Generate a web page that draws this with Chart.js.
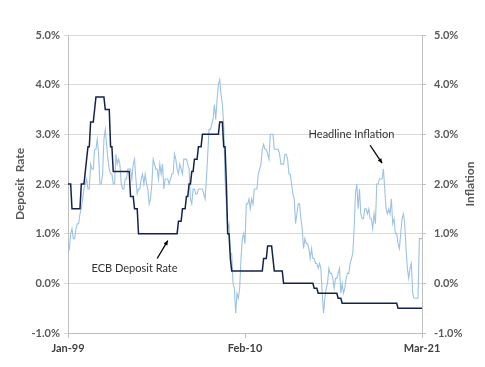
<!DOCTYPE html>
<html>
<head>
<meta charset="utf-8">
<script src="https://cdn.jsdelivr.net/npm/chart.js@4"></script>
<style>
body{margin:0;background:#fff;}
canvas{display:block;}
</style>
</head>
<body>
<canvas id="chart" width="485" height="367"></canvas>
<script>
// monthly, Jan-99 .. Mar-21
const years = [];
for(let y=1999;y<=2021;y++) years.push(y);
const monthNames = ["Jan","Feb","Mar","Apr","May","Jun","Jul","Aug","Sep","Oct","Nov","Dec"];

const tickIdx = [0,133,266];
const tickLabels = ["Jan-99","Feb-10","Mar-21"];
const yTicks = [-1,0,1,2,3,4,5];

// ECB deposit rate, %
const depositRate = [
2,2,2,1.5,1.5,1.5,1.5,1.5,1.5,1.5,2,2,
2,2.25,2.5,2.75,2.75,3.25,3.25,3.25,3.5,3.75,3.75,3.75,
3.75,3.75,3.75,3.75,3.5,3.5,3.5,3.5,2.75,2.75,2.25,2.25,
2.25,2.25,2.25,2.25,2.25,2.25,2.25,2.25,2.25,2.25,2.25,1.75,
1.75,1.75,1.5,1.5,1.5,1,1,1,1,1,1,1,
1,1,1,1,1,1,1,1,1,1,1,1,
1,1,1,1,1,1,1,1,1,1,1,1.25,
1.25,1.25,1.5,1.5,1.5,1.75,1.75,2,2,2.25,2.25,2.5,
2.5,2.5,2.75,2.75,2.75,3,3,3,3,3,3,3,
3,3,3,3,3,3,3.25,3.25,3.25,2.75,2.75,2,
1,1,0.5,0.25,0.25,0.25,0.25,0.25,0.25,0.25,0.25,0.25,
0.25,0.25,0.25,0.25,0.25,0.25,0.25,0.25,0.25,0.25,0.25,0.25,
0.25,0.25,0.25,0.5,0.5,0.5,0.75,0.75,0.75,0.75,0.5,0.25,
0.25,0.25,0.25,0.25,0.25,0.25,0,0,0,0,0,0,
0,0,0,0,0,0,0,0,0,0,0,0,
0,0,0,0,0,-0.1,-0.1,-0.1,-0.2,-0.2,-0.2,-0.2,
-0.2,-0.2,-0.2,-0.2,-0.2,-0.2,-0.2,-0.2,-0.2,-0.2,-0.2,-0.3,
-0.3,-0.3,-0.4,-0.4,-0.4,-0.4,-0.4,-0.4,-0.4,-0.4,-0.4,-0.4,
-0.4,-0.4,-0.4,-0.4,-0.4,-0.4,-0.4,-0.4,-0.4,-0.4,-0.4,-0.4,
-0.4,-0.4,-0.4,-0.4,-0.4,-0.4,-0.4,-0.4,-0.4,-0.4,-0.4,-0.4,
-0.4,-0.4,-0.4,-0.4,-0.4,-0.4,-0.4,-0.4,-0.5,-0.5,-0.5,-0.5,
-0.5,-0.5,-0.5,-0.5,-0.5,-0.5,-0.5,-0.5,-0.5,-0.5,-0.5,-0.5,
-0.5,-0.5,-0.5
];

// headline inflation, % y/y
const inflation = [
0.8,0.7,1.0,1.1,0.9,0.9,1.1,1.2,1.2,1.4,1.5,1.7,
1.9,2.0,2.1,1.9,1.9,2.4,2.3,2.3,2.7,2.7,2.9,2.6,
2.0,2.0,2.2,2.9,3.1,2.8,2.5,2.3,2.2,2.2,2.0,2.0,
2.6,2.4,2.5,2.4,2.0,1.9,1.9,2.1,2.1,2.3,2.3,2.3,
2.1,2.4,2.5,2.1,1.8,1.9,1.9,2.1,2.2,2.0,2.2,2.0,
1.9,1.6,1.7,2.0,2.5,2.4,2.3,2.3,2.1,2.4,2.2,2.4,
1.9,2.1,2.1,2.1,2.0,2.1,2.2,2.2,2.6,2.5,2.3,2.2,
2.4,2.3,2.2,2.5,2.5,2.5,2.4,2.3,1.7,1.6,1.9,1.9,
1.8,1.8,1.9,1.9,1.9,1.9,1.8,1.7,2.1,2.6,3.1,3.1,
3.2,3.3,3.6,3.3,3.7,4.0,4.1,3.8,3.6,3.2,2.1,1.6,
1.1,1.2,0.6,0.6,0.0,-0.1,-0.6,-0.2,-0.3,-0.1,0.5,0.9,
1.0,0.8,1.6,1.6,1.7,1.5,1.7,1.6,1.9,1.9,1.9,2.2,
2.3,2.4,2.7,2.8,2.7,2.7,2.6,2.5,3.0,3.0,3.0,2.7,
2.7,2.7,2.7,2.6,2.4,2.4,2.4,2.6,2.6,2.5,2.2,2.2,
2.0,1.8,1.7,1.2,1.4,1.6,1.6,1.3,1.1,0.7,0.9,0.8,
0.8,0.7,0.5,0.7,0.5,0.5,0.4,0.4,0.3,0.4,0.3,-0.2,
-0.6,-0.3,-0.1,0.0,0.3,0.2,0.2,0.1,-0.1,0.1,0.1,0.2,
0.3,-0.2,0.0,-0.2,-0.1,0.1,0.2,0.2,0.4,0.5,0.6,1.1,
1.8,2.0,1.5,1.9,1.4,1.3,1.3,1.5,1.5,1.4,1.5,1.3,
1.3,1.1,1.4,1.2,2.0,2.0,2.1,2.1,2.1,2.3,1.9,1.5,
1.4,1.5,1.4,1.7,1.2,1.3,1.0,1.0,0.8,0.7,1.0,1.3,
1.4,1.2,0.7,0.3,0.1,0.3,0.4,-0.2,-0.3,-0.3,-0.3,-0.3,
0.9,0.9,0.9
];

const labels = [];
years.forEach(y => monthNames.forEach(m => labels.push(m+"-"+String(y).slice(2))));
labels.length = depositRate.length;

// annotations: [month index, value]
const ecbNote = {text:"ECB Deposit Rate", at:[50,0.3], from:[67,0.5], to:[75,0.86]};
const inflNote = {text:"Headline Inflation", at:[213,3.0], from:[227,2.78], to:[236,2.42]};

const FONT = "Lato, 'Open Sans', sans-serif";
const GREY = "#595959";

function drawArrow(ctx,x1,y1,x2,y2){
const a = Math.atan2(y2-y1,x2-x1), h = 5;
ctx.beginPath();
ctx.moveTo(x1,y1);
ctx.lineTo(x2,y2);
ctx.stroke();
ctx.beginPath();
ctx.moveTo(x2,y2);
ctx.lineTo(x2-h*Math.cos(a-0.45),y2-h*Math.sin(a-0.45));
ctx.lineTo(x2-h*Math.cos(a+0.45),y2-h*Math.sin(a+0.45));
ctx.closePath();
ctx.fill();
}

const extras = {
id:"extras",
afterDraw(c){
const ctx = c.ctx, xs = c.scales.x, ys = c.scales.y, ca = c.chartArea;
const mid = (ca.top+ca.bottom)/2;
ctx.save();
ctx.fillStyle = GREY;
ctx.font = "bold 12px "+FONT;
ctx.textAlign = "center";
ctx.textBaseline = "middle";
[["Deposit  Rate",20],["Inflation",470]].forEach(t=>{
ctx.save();
ctx.translate(t[1],mid);
ctx.rotate(-Math.PI/2);
ctx.fillText(t[0],0,0);
ctx.restore();
});

ctx.strokeStyle = "#000";
ctx.lineWidth = 1.3;
ctx.font = "11px "+FONT;
[ecbNote,inflNote].forEach(n=>{
ctx.fillStyle = "#333";
ctx.fillText(n.text, xs.getPixelForValue(n.at[0]), ys.getPixelForValue(n.at[1]));
ctx.fillStyle = "#000";
drawArrow(ctx,
xs.getPixelForValue(n.from[0]), ys.getPixelForValue(n.from[1]),
xs.getPixelForValue(n.to[0]), ys.getPixelForValue(n.to[1]));
});
ctx.restore();
}
};

const tickFont = {family:FONT, size:11, weight:"bold"};

const chart = new Chart(document.getElementById("chart").getContext("2d"),{
type:"line",
data:{
labels:labels,
datasets:[
{label:"ECB Deposit Rate",data:depositRate,yAxisID:"y",borderColor:"#14224a",borderWidth:1.5,pointRadius:0,tension:0},
{label:"Headline Inflation",data:inflation,yAxisID:"y1",borderColor:"#9cc2e5",borderWidth:1.1,pointRadius:0,tension:0}
]
},
options:{
responsive:false,
animation:false,
layout:{padding:{top:35,left:0,right:0,bottom:0}},
plugins:{legend:{display:false},tooltip:{enabled:false}},
scales:{
x:{
type:"category",
offset:false,
grid:{drawOnChartArea:false,color:"#bfbfbf",tickLength:5},
border:{color:"#bfbfbf"},
ticks:{autoSkip:false,maxRotation:0,padding:4,color:"#404040",font:tickFont,
callback(v){ return tickLabels[tickIdx.indexOf(v)]; }},
afterBuildTicks(s){ s.ticks = s.ticks.filter(t => tickIdx.includes(t.value)); },
afterFit(s){ s.height = 34; }
},
y:{
position:"left",min:-1,max:5,
afterBuildTicks(s){ s.ticks = yTicks.map(v=>({value:v})); },
ticks:{color:GREY,font:tickFont,padding:4,callback:v=>v.toFixed(1)+"%"},
grid:{color:"#d9d9d9",tickLength:4},
border:{color:"#bfbfbf"},
afterFit(s){ s.width = 68; }
},
y1:{
position:"right",min:-1,max:5,
afterBuildTicks(s){ s.ticks = yTicks.map(v=>({value:v})); },
ticks:{color:GREY,font:tickFont,padding:8,callback:v=>v.toFixed(1)+"%"},
grid:{drawOnChartArea:false,color:"#bfbfbf",tickLength:4},
border:{color:"#bfbfbf"},
afterFit(s){ s.width = 63; }
}
}
},
plugins:[extras]
});
</script>
</body>
</html>
